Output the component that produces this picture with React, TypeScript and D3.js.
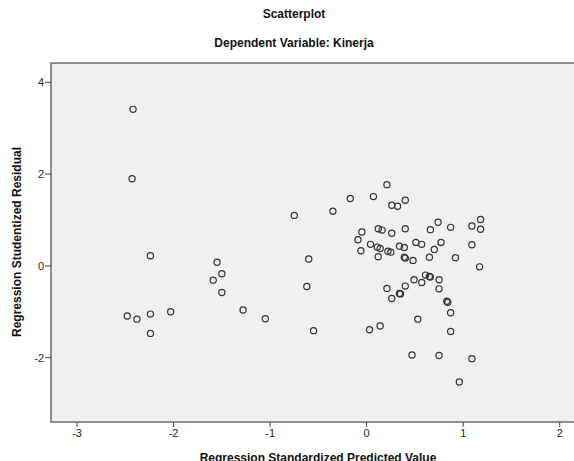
import { useMemo } from "react";
import * as d3 from "d3";

// Regression Standardized Predicted Value
const predicted = [
  -2.42, -2.43, -2.24, -2.48, -2.38, -2.24, -2.24, -2.03, -1.55, -1.5, -1.59, -1.5, -1.28, -1.05,
  -0.75, -0.35, -0.17, -0.6, -0.62, -0.55, -0.05, -0.09, -0.06, 0.03, 0.14, 0.21, 0.07, 0.26,
  0.32, 0.4, 0.04, 0.12, 0.16, 0.26, 0.4, 0.11, 0.14, 0.12, 0.22, 0.25, 0.34, 0.39, 0.39, 0.4,
  0.48, 0.51, 0.57, 0.66, 0.74, 0.87, 0.77, 0.7, 0.65, 0.92, 1.09, 1.18, 1.18, 1.09, 1.17, 0.61,
  0.65, 0.66, 0.75, 0.49, 0.57, 0.4, 0.21, 0.75, 0.34, 0.35, 0.26, 0.83, 0.84, 0.87, 0.53, 0.87,
  0.47, 0.75, 1.09, 0.96,
];

// Regression Studentized Residual
const residual = [
  3.41, 1.9, 0.22, -1.09, -1.16, -1.05, -1.47, -1.0, 0.08, -0.17, -0.31, -0.58, -0.96, -1.15,
  1.1, 1.19, 1.47, 0.15, -0.45, -1.41, 0.74, 0.57, 0.33, -1.39, -1.31, 1.77, 1.51, 1.32,
  1.3, 1.43, 0.47, 0.81, 0.78, 0.71, 0.81, 0.41, 0.38, 0.2, 0.32, 0.3, 0.43, 0.4, 0.19, 0.17,
  0.12, 0.51, 0.47, 0.79, 0.95, 0.84, 0.51, 0.36, 0.19, 0.18, 0.87, 1.01, 0.8, 0.46, -0.02, -0.2,
  -0.23, -0.24, -0.3, -0.3, -0.36, -0.44, -0.49, -0.5, -0.6, -0.61, -0.71, -0.77, -0.79, -1.02, -1.16, -1.43,
  -1.94, -1.95, -2.02, -2.53,
];

const xTicks = [-3, -2, -1, 0, 1, 2];
const yTicks = [-2, 0, 2, 4];

const W = 574;
const H = 461;
const plot = { left: 51, right: 580, top: 63, bottom: 422 };
const font = "Arial, 'Liberation Sans', sans-serif";

export default function App() {
  const x = useMemo(() => d3.scaleLinear().domain([-3.27, 2.21]).range([plot.left, plot.right]), []);
  const y = useMemo(() => d3.scaleLinear().domain([-3.4, 4.42]).range([plot.bottom, plot.top]), []);

  const points = predicted.map((p, i) => ({ p, r: residual[i] }));

  return (
    <div style={{ position: "absolute", left: 0, top: 0 }}>
      <svg width={W} height={H} style={{ display: "block", background: "#fff" }}>
        <text x={294} y={18} textAnchor="middle" fontFamily={font} fontSize={12} fontWeight="bold" fill="#111">
          Scatterplot
        </text>
        <text x={294} y={47} textAnchor="middle" fontFamily={font} fontSize={12} fontWeight="bold" fill="#111">
          Dependent Variable: Kinerja
        </text>

        <rect
          x={plot.left}
          y={plot.top}
          width={plot.right - plot.left}
          height={plot.bottom - plot.top}
          fill="#f0f0f0"
          stroke="#555"
          strokeWidth={1.3}
        />

        {xTicks.map((t) => (
          <g key={`x${t}`} transform={`translate(${x(t)},${plot.bottom})`}>
            <line y1={0} y2={5} stroke="#444" strokeWidth={1} />
            <text y={15} textAnchor="middle" fontFamily={font} fontSize={11} fill="#222">
              {t}
            </text>
          </g>
        ))}

        {yTicks.map((t) => (
          <g key={`y${t}`} transform={`translate(${plot.left},${y(t)})`}>
            <line x1={-6} x2={0} stroke="#444" strokeWidth={1} />
            <text x={-7} dy="0.35em" textAnchor="end" fontFamily={font} fontSize={11} fill="#222">
              {t}
            </text>
          </g>
        ))}

        {points.map((d, i) => (
          <circle key={i} cx={x(d.p)} cy={y(d.r)} r={3.1} fill="none" stroke="#333" strokeWidth={1.2} />
        ))}

        <text x={318} y={462} textAnchor="middle" fontFamily={font} fontSize={12} fontWeight="bold" fill="#111">
          Regression Standardized Predicted Value
        </text>
        <text
          transform="translate(21,242) rotate(-90)"
          textAnchor="middle"
          fontFamily={font}
          fontSize={12}
          fontWeight="bold"
          fill="#111"
        >
          Regression Studentized Residual
        </text>
      </svg>
    </div>
  );
}
